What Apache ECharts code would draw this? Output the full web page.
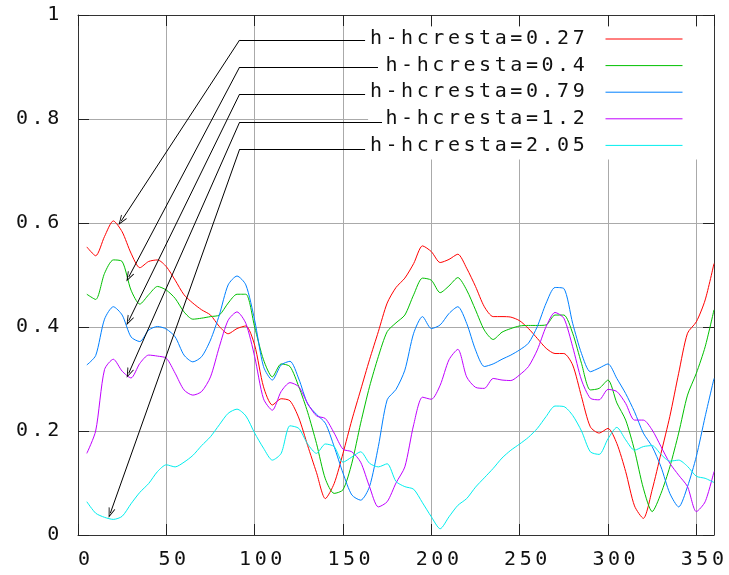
<!DOCTYPE html>
<html>
<head>
<meta charset="utf-8">
<script src="https://cdn.jsdelivr.net/npm/echarts@6/dist/echarts.min.js"></script>
<style>
  html, body { margin: 0; padding: 0; background: #ffffff; }
  #chart { width: 729px; height: 575px; }
</style>
</head>
<body>
<div id="chart"></div>
<script>
// Angle positions (x) shared by every curve
const angles = [5, 10, 15, 20, 25, 30, 35, 40, 45, 50, 55, 60, 65, 70, 75, 80, 85, 90, 95, 100,
  105, 110, 115, 120, 125, 130, 135, 140, 145, 150, 155, 160, 165, 170, 175, 180, 185, 190, 195, 200,
  205, 210, 215, 220, 225, 230, 235, 240, 245, 250, 255, 260, 265, 270, 275, 280, 285, 290, 295, 300,
  305, 310, 315, 320, 325, 330, 335, 340, 345, 350, 355, 360];

const seriesNames = ['h-hcresta=0.27', 'h-hcresta=0.4', 'h-hcresta=0.79', 'h-hcresta=1.2', 'h-hcresta=2.05'];

const h027 = [0.554, 0.537, 0.574, 0.604, 0.583, 0.542, 0.514, 0.526, 0.529, 0.516, 0.490, 0.462, 0.446, 0.433, 0.423, 0.401, 0.387, 0.397, 0.402, 0.365,
  0.285, 0.250, 0.262, 0.258, 0.225, 0.172, 0.120, 0.070, 0.099, 0.157, 0.221, 0.279, 0.337, 0.391, 0.446, 0.476, 0.494, 0.522, 0.556, 0.545,
  0.524, 0.530, 0.540, 0.513, 0.478, 0.439, 0.420, 0.420, 0.419, 0.412, 0.397, 0.378, 0.359, 0.349, 0.349, 0.327, 0.266, 0.208, 0.196, 0.205,
  0.176, 0.122, 0.056, 0.032, 0.087, 0.157, 0.228, 0.311, 0.388, 0.410, 0.452, 0.522];

const h040 = [0.463, 0.453, 0.503, 0.529, 0.526, 0.471, 0.444, 0.462, 0.478, 0.471, 0.455, 0.429, 0.415, 0.417, 0.420, 0.423, 0.446, 0.463, 0.463, 0.400,
  0.337, 0.304, 0.329, 0.324, 0.285, 0.236, 0.176, 0.108, 0.080, 0.087, 0.138, 0.215, 0.285, 0.343, 0.391, 0.408, 0.423, 0.462, 0.494, 0.490,
  0.466, 0.479, 0.495, 0.471, 0.433, 0.394, 0.376, 0.390, 0.397, 0.402, 0.403, 0.403, 0.404, 0.423, 0.423, 0.388, 0.330, 0.279, 0.282, 0.298,
  0.254, 0.221, 0.163, 0.090, 0.045, 0.080, 0.131, 0.196, 0.269, 0.311, 0.362, 0.433];

const h079 = [0.327, 0.345, 0.415, 0.439, 0.423, 0.381, 0.372, 0.394, 0.401, 0.396, 0.381, 0.346, 0.333, 0.343, 0.375, 0.423, 0.481, 0.498, 0.481, 0.413,
  0.324, 0.298, 0.327, 0.334, 0.300, 0.252, 0.232, 0.215, 0.170, 0.119, 0.077, 0.067, 0.093, 0.170, 0.260, 0.280, 0.317, 0.388, 0.420, 0.397,
  0.404, 0.426, 0.439, 0.407, 0.356, 0.324, 0.329, 0.338, 0.346, 0.356, 0.369, 0.401, 0.446, 0.476, 0.474, 0.407, 0.349, 0.314, 0.321, 0.329,
  0.301, 0.272, 0.237, 0.196, 0.170, 0.131, 0.080, 0.054, 0.093, 0.151, 0.228, 0.301];

const h120 = [0.157, 0.200, 0.318, 0.338, 0.315, 0.302, 0.330, 0.346, 0.344, 0.340, 0.311, 0.279, 0.269, 0.276, 0.304, 0.362, 0.413, 0.429, 0.407, 0.343,
  0.262, 0.240, 0.276, 0.293, 0.285, 0.253, 0.229, 0.224, 0.196, 0.165, 0.160, 0.140, 0.093, 0.054, 0.064, 0.100, 0.131, 0.212, 0.265, 0.261,
  0.288, 0.337, 0.357, 0.304, 0.284, 0.282, 0.301, 0.298, 0.297, 0.308, 0.324, 0.356, 0.401, 0.428, 0.417, 0.362, 0.298, 0.263, 0.260, 0.280,
  0.276, 0.253, 0.221, 0.221, 0.202, 0.170, 0.138, 0.115, 0.093, 0.045, 0.064, 0.122];

const h205 = [0.064, 0.042, 0.034, 0.030, 0.036, 0.060, 0.082, 0.099, 0.122, 0.135, 0.131, 0.140, 0.153, 0.172, 0.189, 0.212, 0.234, 0.242, 0.229, 0.196,
  0.167, 0.144, 0.157, 0.210, 0.205, 0.175, 0.157, 0.175, 0.170, 0.140, 0.150, 0.160, 0.138, 0.131, 0.137, 0.103, 0.093, 0.088, 0.062, 0.035,
  0.012, 0.035, 0.057, 0.070, 0.092, 0.110, 0.128, 0.148, 0.163, 0.175, 0.188, 0.205, 0.228, 0.248, 0.247, 0.230, 0.200, 0.160, 0.155, 0.185,
  0.207, 0.183, 0.163, 0.170, 0.172, 0.155, 0.142, 0.144, 0.132, 0.113, 0.109, 0.101];

// Callout arrows from each key entry to its curve (data coordinates)
const calloutElbows = [[91.5, 0.952], [91.5, 0.900], [91.5, 0.848], [91.5, 0.794], [91.5, 0.742]];
const calloutLeaderEnds = [162.5, 169.8, 162.5, 172.1, 162.5];
const calloutTips = [[24.5, 0.604], [28.7, 0.496], [28.7, 0.412], [28.7, 0.311], [18.3, 0.042]];

const curves = [h027, h040, h079, h120, h205];
const lineColors = ['#ff0000', '#00c000', '#0080ff', '#c000ff', '#00eeee'];

// Open "V" arrowhead, tip pointing up before rotation
const openHead = 'path://M0,12 L5,0 L10,12 L8.7,12 L5,3.2 L1.3,12 Z';

// Fixed-pitch glyph cells, like a plotter's bitmap font
const cell = {
  fontFamily: 'DejaVu Sans Mono',
  fontSize: 20,
  lineHeight: 20,
  width: 15.6,
  align: 'center',
  color: '#111'
};
function pitched(str) {
  return String(str).split('').map(function (ch) { return '{c|' + ch + '}'; }).join('');
}

const chart = echarts.init(document.getElementById('chart'), null, { renderer: 'canvas' });

const lineSeries = curves.map(function (vals, i) {
  return {
    type: 'line',
    name: seriesNames[i],
    data: angles.map(function (a, j) { return [a, vals[j]]; }),
    symbol: 'none',
    showSymbol: false,
    smooth: 0.25,
    lineStyle: { width: 1, color: lineColors[i] },
    itemStyle: { color: lineColors[i] },
    emphasis: { disabled: true },
    silent: true,
    z: 2
  };
});

const calloutData = [];
calloutElbows.forEach(function (elbow, i) {
  calloutData.push([
    { coord: elbow, symbol: 'none' },
    { coord: [calloutLeaderEnds[i], elbow[1]], symbol: 'none' }
  ]);
  calloutData.push([
    { coord: elbow, symbol: 'none' },
    { coord: calloutTips[i], symbol: openHead, symbolSize: [7, 10] }
  ]);
});

lineSeries.push({
  type: 'line',
  name: 'callouts',
  data: [],
  silent: true,
  markLine: {
    silent: true,
    animation: false,
    symbol: ['none', 'none'],
    label: { show: false },
    emphasis: { disabled: true },
    lineStyle: { color: '#000', width: 1, type: 'solid' },
    itemStyle: { color: '#000' },
    data: calloutData
  },
  z: 3
});

const axisLineStyle = { color: '#333', width: 1 };
const tickStyle = { show: true, inside: true, length: 11, lineStyle: { color: '#222', width: 1 } };

chart.setOption({
  animation: false,
  backgroundColor: '#ffffff',
  grid: { left: 78, right: 15, top: 15, bottom: 40, containLabel: false },
  xAxis: [
    {
      type: 'value', min: 0, max: 360, interval: 50, position: 'bottom',
      axisLine: { show: true, onZero: false, lineStyle: axisLineStyle },
      axisTick: tickStyle,
      splitLine: { show: true, lineStyle: { color: '#aaaaaa', width: 1 } },
      axisLabel: {
        margin: 15, showMaxLabel: false, padding: [0, 0, 0, 12],
        formatter: function (v) { return pitched(v); },
        rich: { c: cell }
      }
    },
    {
      type: 'value', min: 0, max: 360, interval: 50, position: 'top',
      axisLine: { show: true, onZero: false, lineStyle: axisLineStyle },
      axisTick: tickStyle,
      splitLine: { show: false },
      axisLabel: { show: false }
    }
  ],
  yAxis: [
    {
      type: 'value', min: 0, max: 1, interval: 0.2, position: 'left',
      axisLine: { show: true, onZero: false, lineStyle: axisLineStyle },
      axisTick: tickStyle,
      splitLine: { show: true, lineStyle: { color: '#aaaaaa', width: 1 } },
      axisLabel: {
        margin: 17,
        formatter: function (v) { return pitched(v); },
        rich: { c: cell }
      }
    },
    {
      type: 'value', min: 0, max: 1, interval: 0.2, position: 'right',
      axisLine: { show: true, onZero: false, lineStyle: axisLineStyle },
      axisTick: tickStyle,
      splitLine: { show: false },
      axisLabel: { show: false }
    }
  ],
  legend: {
    data: seriesNames,
    orient: 'vertical',
    align: 'right',
    right: 15,
    top: 27,
    padding: [2, 31, 4, 0],
    itemWidth: 77,
    itemHeight: 20,
    itemGap: 6.6,
    backgroundColor: '#ffffff',
    selectedMode: false,
    itemStyle: { opacity: 0 },
    lineStyle: { width: 1 },
    formatter: function (name) { return pitched(name); },
    textStyle: { padding: [0, 14, 0, 0], rich: { c: cell } },
    z: 4
  },
  series: lineSeries
});
</script>
</body>
</html>
